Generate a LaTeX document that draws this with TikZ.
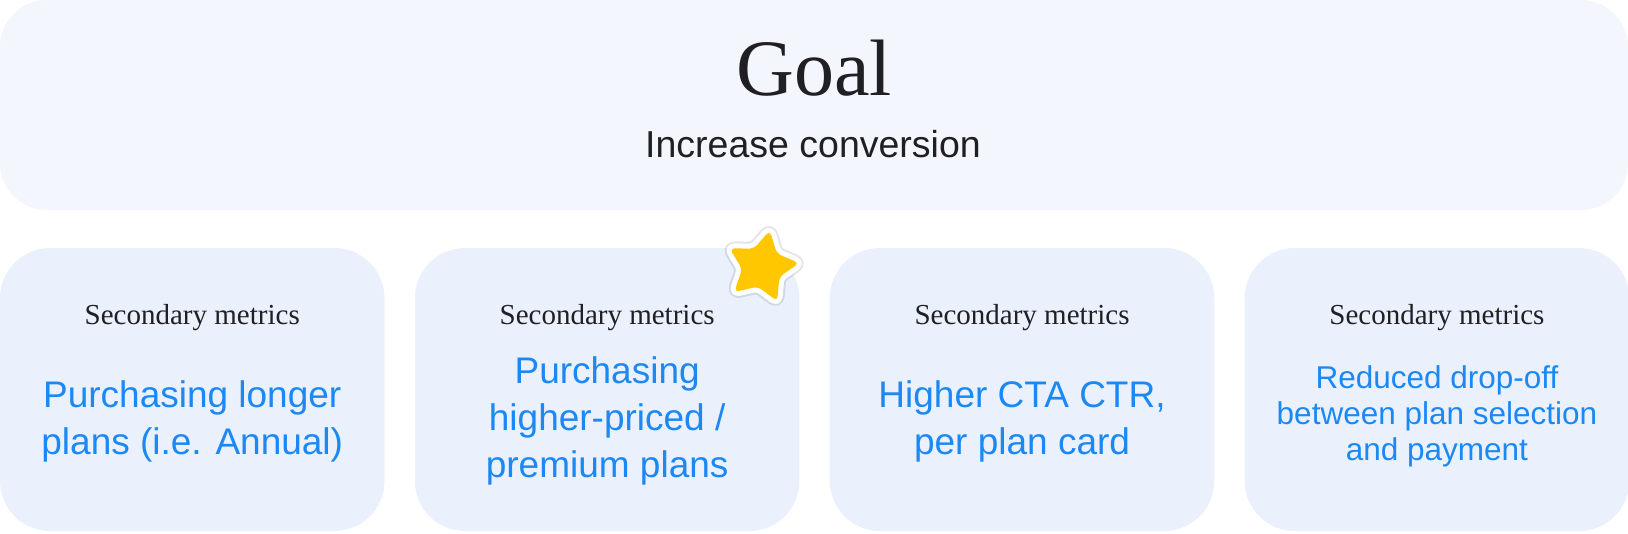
\documentclass[tikz,border=0pt]{standalone}
\usepackage{fontspec}
\setmainfont{Liberation Serif}
\newfontfamily\uifont{Liberation Sans}
\usepackage{tikz}
\usetikzlibrary{positioning}

\definecolor{goalfill}{HTML}{F3F6FC}
\definecolor{metricfill}{HTML}{EAF1FD}
\definecolor{metricblue}{HTML}{1C88F4}
\definecolor{inkdark}{HTML}{1F1F24}
\definecolor{staryellow}{HTML}{FFC700}

\begin{document}
\begin{tikzpicture}
[
x=1pt, y=-1pt,
goalbox/.style={rectangle, rounded corners=47pt, fill=goalfill, minimum width=1628pt, minimum height=210pt, inner sep=0pt},
metricbox/.style={rectangle, rounded corners=50pt, fill=metricfill, minimum width=384.5pt, minimum height=283pt, inner sep=0pt},
caption/.style={text=inkdark, font=\fontsize{29}{34}\selectfont, anchor=base, inner sep=0pt},
metric/.style={text=metricblue, font=\uifont\fontsize{37}{47}\selectfont, align=center, inner sep=0pt},
metricsmall/.style={text=metricblue, font=\uifont\fontsize{31.5}{36}\selectfont, align=center, inner sep=0pt},
favmark/.style={fill=staryellow, rounded corners=5pt,
  preaction={draw=black, draw opacity=0.10, line width=14pt, line join=round, yshift=-1pt},
  preaction={draw=white, line width=10pt, line join=round}}
]
\useasboundingbox (0,0) rectangle (1628,533);

%Nodes
\node[goalbox]      (goal)      at (814,105)    {};
\node[text=inkdark, font=\fontsize{80}{90}\selectfont, anchor=base, inner sep=0pt] (goaltitle) at (814,95) {Goal};
\node[text=inkdark, font=\uifont\fontsize{37.5}{42}\selectfont, anchor=base, inner sep=0pt] (goaltext) at (813,157) {Increase conversion};

\node[metricbox]    (m1)        at (192.25,389.5)           {};
\node[metricbox]    (m2)        [right=30pt of m1]          {};
\node[metricbox]    (m3)        [right=30pt of m2]          {};
\node[metricbox]    (m4)        [right=30pt of m3]          {};

\foreach \m in {m1,m2,m3,m4}
  \node[caption] (\m cap) at (\m.north) [yshift=-76.5pt] {Secondary metrics};

\node[metric]       (m1text)    at (m1.center) [yshift=-32pt]  {Purchasing longer\\plans (i.e. Annual)};
\node[metric]       (m2text)    at (m2.center) [yshift=-31pt]  {Purchasing\\higher-priced /\\premium plans};
\node[metric]       (m3text)    at (m3.center) [yshift=-32pt]  {Higher CTA CTR,\\per plan card};
\node[metricsmall]  (m4text)    at (m4.center) [yshift=-27pt]  {Reduced drop-off\\between plan selection\\and payment};

%Star
\path[favmark, shift={(762,267)}] (-78:37.5)
  \foreach \a/\r in {-42/20, -6/37.5, 30/20, 66/37.5, 102/20, 138/37.5, 174/20, 210/37.5, 246/20} { -- (\a:\r) } -- cycle;
\end{tikzpicture}
\end{document}
